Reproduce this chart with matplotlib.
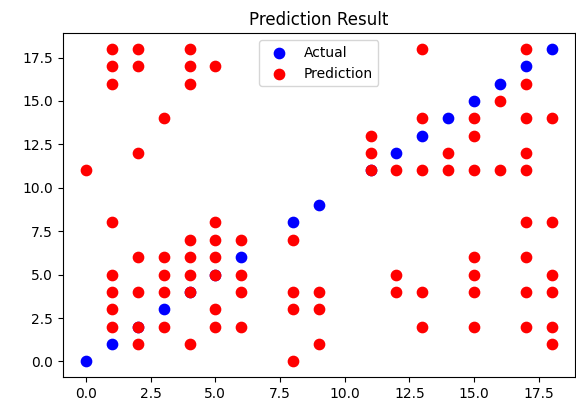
import matplotlib
matplotlib.use("Agg")
import matplotlib.pyplot as plt

# class labels that occur in the test set (actual value == x)
actual = [0, 1, 2, 3, 4, 5, 6, 8, 9, 11, 12, 13, 14, 15, 16, 17, 18]

# predicted values, grouped by the actual class
pred_x = ([0] +
          [1] * 8 +
          [2] * 7 +
          [3] * 5 +
          [4] * 8 +
          [5] * 7 +
          [6] * 4 +
          [8] * 4 +
          [9] * 3 +
          [11] * 3 +
          [12] * 3 +
          [13] * 5 +
          [14] * 2 +
          [15] * 7 +
          [16] * 2 +
          [17] * 9 +
          [18] * 6)
pred_y = ([11] +
          [18, 17, 16, 8, 5, 4, 3, 2] +
          [18, 17, 12, 6, 4, 2, 1] +
          [14, 6, 5, 4, 2] +
          [18, 17, 16, 7, 6, 5, 4, 1] +
          [17, 8, 7, 6, 5, 3, 2] +
          [7, 5, 4, 2] +
          [7, 4, 3, 0] +
          [4, 3, 1] +
          [13, 12, 11] +
          [11, 5, 4] +
          [18, 14, 11, 4, 2] +
          [12, 11] +
          [14, 13, 11, 6, 5, 4, 2] +
          [15, 11] +
          [18, 16, 14, 12, 11, 8, 6, 4, 2] +
          [14, 8, 5, 4, 2, 1])

fig = plt.figure(figsize=(5.76, 4.05), dpi=100)
ax = fig.add_axes([0.109, 0.069, 0.889, 0.849])
ax.scatter(actual, actual, color="blue", s=55, label="Actual")
ax.scatter(pred_x, pred_y, color="red", s=55, label="Prediction")
ax.set_title("Prediction Result")
ax.legend(loc="upper center")

fig.savefig("out.png", dpi=100)
